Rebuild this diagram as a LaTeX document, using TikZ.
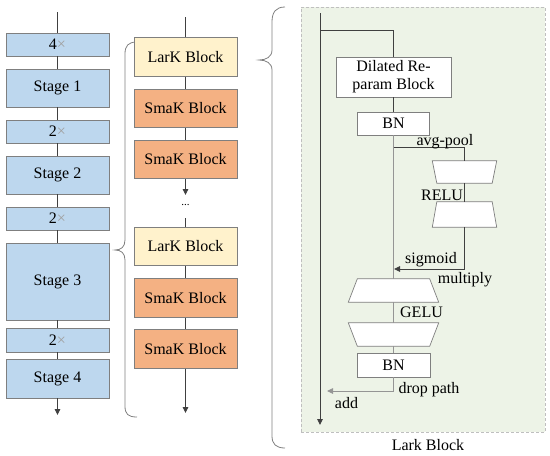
\documentclass[tikz,border=0pt]{standalone}
\usepackage{fontspec}
\setmainfont{Liberation Serif}
\usetikzlibrary{arrows.meta,calc}
\definecolor{stageblue}{HTML}{BDD7EE}
\definecolor{larkyellow}{HTML}{FFF2CC}
\definecolor{smakorange}{HTML}{F4B183}
\definecolor{panelgreen}{HTML}{EDF3E7}
\definecolor{boxedge}{HTML}{7F7F7F}
\definecolor{darkline}{HTML}{404040}
\definecolor{lightline}{HTML}{959595}
\definecolor{xgray}{HTML}{A0A0A0}
\begin{document}
\begin{tikzpicture}[x=1pt,y=-1pt,
  every node/.style={font=\fontsize{16}{19}\selectfont, inner sep=0pt},
  stagebox/.style={draw=boxedge, line width=0.7pt, fill=stageblue, minimum width=103pt},
  larkbox/.style={draw=boxedge, line width=0.7pt, fill=larkyellow, minimum width=103pt, minimum height=38.5pt},
  smakbox/.style={draw=boxedge, line width=0.7pt, fill=smakorange, minimum width=103pt, minimum height=38.5pt},
  whitebox/.style={draw=boxedge, line width=0.7pt, fill=white},
  trapbox/.style={minimum width=#1, inner sep=0pt},
  trapline/.style={draw=boxedge, line width=0.7pt, fill=white},
  dk/.style={draw=darkline, line width=0.9pt},
  lt/.style={draw=lightline, line width=0.9pt},
  tip/.style={-{Triangle[length=6pt,width=5.5pt]}},
  bracestyle/.style={draw=gray, line width=0.8pt},
  lbl/.style={text=black}
]
\useasboundingbox (0,0) rectangle (550,456);

% ---------- left column ----------
\coordinate (lTop) at (57.5,12);
\coordinate (lBot) at (57.5,415);
\node[stagebox, minimum height=23pt] (m0) at (57.5,44.5) {4\textcolor{xgray}{×}};
\node[stagebox, minimum height=38pt] (s1) at (57.5,88) {Stage 1};
\node[stagebox, minimum height=23pt] (m1) at (57.5,131.5) {2\textcolor{xgray}{×}};
\node[stagebox, minimum height=38pt] (s2) at (57.5,175) {Stage 2};
\node[stagebox, minimum height=23pt] (m2) at (57.5,218.5) {2\textcolor{xgray}{×}};
\node[stagebox, minimum height=77pt] (s3) at (57.5,281.5) {Stage 3};
\node[stagebox, minimum height=24pt] (m3) at (57.5,340) {2\textcolor{xgray}{×}};
\node[stagebox, minimum height=39pt] (s4) at (57.5,378.5) {Stage 4};
\draw[dk] (lTop) -- (m0);
\draw[dk] (m0) -- (s1);
\draw[dk] (s1) -- (m1);
\draw[dk] (m1) -- (s2);
\draw[dk] (s2) -- (m2);
\draw[dk] (m2) -- (s3);
\draw[dk] (s3) -- (m3);
\draw[dk] (m3) -- (s4);
\draw[dk,tip] (s4) -- (lBot);

% ---------- left brace ----------
\draw[bracestyle] (137,42) .. controls (128,42) and (125,46) .. (125,54)
  -- (125,240) .. controls (125,247) and (121,250) .. (115,250)
  .. controls (121,250) and (125,253) .. (125,260)
  -- (125,406) .. controls (125,414) and (128,417) .. (137,417);

% ---------- middle column ----------
\coordinate (mTop) at (185.5,17);
\coordinate (mMidArrow) at (185.5,195);
\coordinate (mMidStart) at (185.5,218);
\coordinate (mBot) at (185.5,413);
\node[larkbox] (k1) at (185.5,57) {LarK Block};
\node[smakbox] (k2) at (185.5,108.5) {SmaK Block};
\node[smakbox] (k3) at (185.5,159.5) {SmaK Block};
\node (dots) at (185.5,205) {\fontsize{11}{12}\selectfont ...};
\node[larkbox] (k4) at (185.5,246.5) {LarK Block};
\node[smakbox] (k5) at (185.5,298) {SmaK Block};
\node[smakbox] (k6) at (185.5,349) {SmaK Block};
\draw[dk] (mTop) -- (k1);
\draw[dk] (k1) -- (k2);
\draw[dk] (k2) -- (k3);
\draw[dk,tip] (k3) -- (mMidArrow);
\draw[dk] (mMidStart) -- (k4);
\draw[dk] (k4) -- (k5);
\draw[dk] (k5) -- (k6);
\draw[dk,tip] (k6) -- (mBot);

% ---------- right brace ----------
\draw[bracestyle] (285,7) .. controls (276,7) and (272,12) .. (272,22)
  -- (272,50) .. controls (272,57) and (266,60) .. (259,60)
  .. controls (266,60) and (272,63) .. (272,70)
  -- (272,436) .. controls (272,444) and (276,448) .. (285,448);

% ---------- right panel ----------
\node[draw=gray!50, dash pattern=on 3pt off 2pt, line width=0.8pt, fill=panelgreen,
      minimum width=244pt, minimum height=425pt] (panel) at (423,219.5) {};
\node (title) at (428,445) {Lark Block};

\coordinate (mainTop) at (320,13);
\coordinate (mainBot) at (320,425);
\coordinate (brL) at (320,30);
\coordinate (brR) at (393.5,30);
\draw[dk,tip] (mainTop) -- (mainBot);

\node[whitebox, minimum width=115pt, minimum height=40pt, align=center] (dil) at (393.5,77)
  {Dilated Re-\\[-1pt]param Block};
\node[whitebox, minimum width=72pt, minimum height=23pt] (bn1) at (393.5,123.5) {BN};
\draw[dk] (brL) -- (brR) -- (dil.north);
\draw[dk] (dil) -- (bn1);

% SE branch
\coordinate (apL) at (393.5,147);
\coordinate (apR) at (464.5,147);
\node[trapbox=64pt, minimum height=22pt] (tA) at (464.5,172) {};
\node[trapbox=64pt, minimum height=25pt] (tB) at (464.5,214.5) {};
\draw[trapline] (tA.north west) -- (tA.north east) -- ($(tA.south east)+(-4.5,0)$) -- ($(tA.south west)+(4.5,0)$) -- cycle;
\draw[trapline] ($(tB.north west)+(4.5,0)$) -- ($(tB.north east)+(-4.5,0)$) -- (tB.south east) -- (tB.south west) -- cycle;
\coordinate (sgR) at (464.5,269);
\coordinate (sgL) at (394,269);

% main branch trapezoids
\node[trapbox=90pt, minimum height=23pt] (tC) at (393.5,290.5) {};
\node[trapbox=90pt, minimum height=23pt] (tD) at (393.5,334.5) {};
\draw[trapline] ($(tC.north west)+(9,0)$) -- ($(tC.north east)+(-9,0)$) -- (tC.south east) -- (tC.south west) -- cycle;
\draw[trapline] (tD.north west) -- (tD.north east) -- ($(tD.south east)+(-9,0)$) -- ($(tD.south west)+(9,0)$) -- cycle;
\node[whitebox, minimum width=73pt, minimum height=24pt] (bn2) at (393.5,365) {BN};
\coordinate (dpR) at (393.5,391);
\coordinate (dpL) at (327,391);

\draw[lt] (bn1.south) -- (tC.north);
\draw[lt] (tC) -- (tD);
\draw[lt] (tD) -- (bn2);
\draw[lt,tip] (bn2.south) -- (dpR) -- (dpL);
\draw[dk] (apL) -- (apR) -- (tA.north);
\draw[dk] (tA) -- (tB);
\draw[dk,tip] (tB.south) -- (sgR) -- (sgL);

% labels
\node[lbl] (lavg) at (445,142) {avg-pool};
\node[lbl] (lrelu) at (442,195) {RELU};
\node[lbl] (lsig) at (431,260) {sigmoid};
\node[lbl] (lmul) at (465,280) {multiply};
\node[lbl] (lgelu) at (421.5,312.5) {GELU};
\node[lbl] (ldrop) at (429,390) {drop path};
\node[lbl] (ladd) at (346.5,403) {add};
\end{tikzpicture}
\end{document}
